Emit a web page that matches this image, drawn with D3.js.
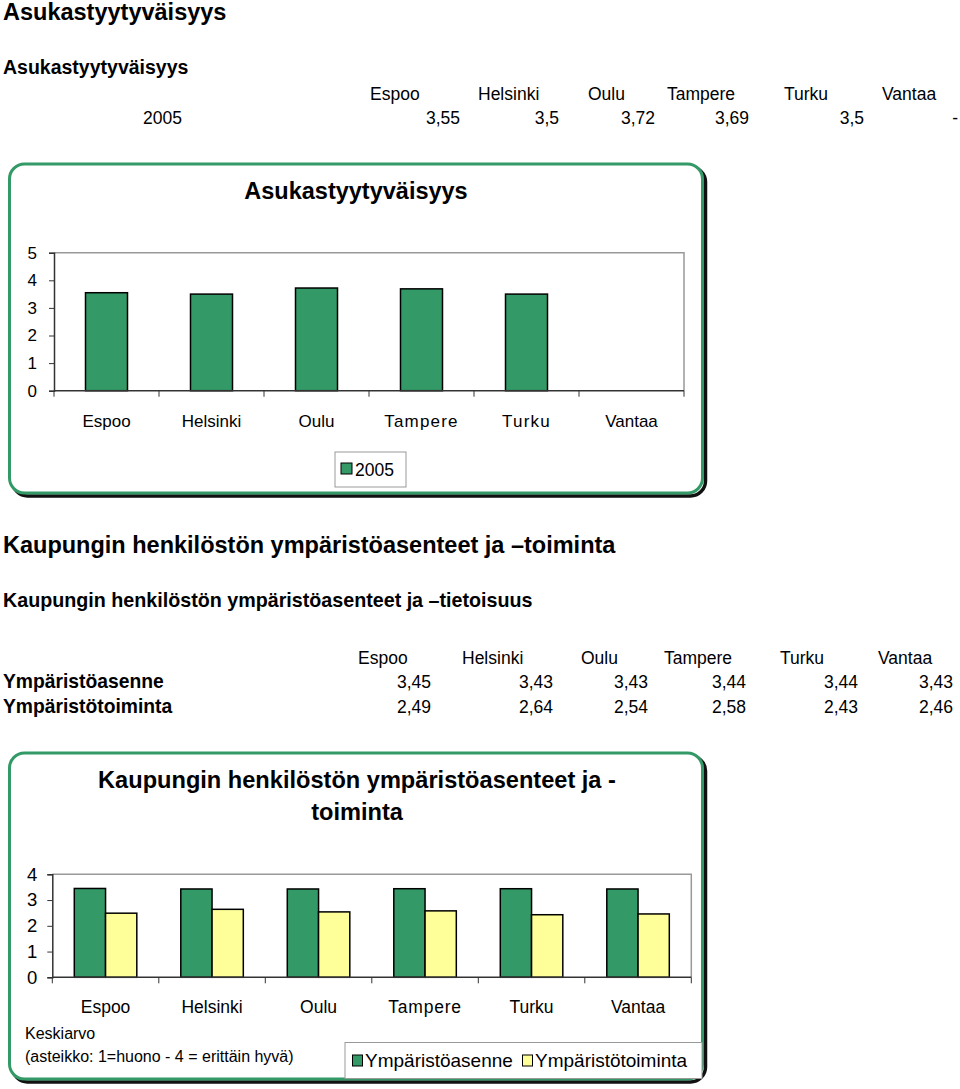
<!DOCTYPE html>
<html><head><meta charset="utf-8">
<script src="https://cdn.jsdelivr.net/npm/d3@7"></script>
<style>
body{margin:0;background:#fff;}
svg text{font-family:Arial,"Liberation Sans",sans-serif;fill:#000;}
</style></head>
<body><svg id="c" width="960" height="1089"></svg>
<script>
// ---- Data ----
const cities = ["Espoo","Helsinki","Oulu","Tampere","Turku","Vantaa"];
const satisfaction2005 = [3.55, 3.5, 3.72, 3.69, 3.5, null];
const satisfactionLabels = ["3,55","3,5","3,72","3,69","3,5","-"];
const attitude = [3.45, 3.43, 3.43, 3.44, 3.44, 3.43];
const action = [2.49, 2.64, 2.54, 2.58, 2.43, 2.46];
const seriesNames = ["Ympäristöasenne","Ympäristötoiminta"];
const yTicks1 = [0,1,2,3,4,5];
const yTicks2 = [0,1,2,3,4];

const GREEN = "#339966", YELLOW = "#ffff99";
const fmt = v => v.toFixed(2).replace(".", ",");

const svg = d3.select("#c");

// ---- Text blocks ----
svg.append("text").attr("x",3).attr("y",20).attr("font-size",23.5).attr("font-weight","bold").text("Asukastyytyväisyys");
svg.append("text").attr("x",3).attr("y",74).attr("font-size",19.5).attr("font-weight","bold").text("Asukastyytyväisyys");

const hdr1X = [370,478,588,667,784,882];
const val1X = [460,559,655,749,864,958];
cities.forEach((c,i)=>{
  svg.append("text").attr("x",hdr1X[i]).attr("y",100).attr("font-size",17.5).text(c);
  svg.append("text").attr("x",val1X[i]).attr("y",124).attr("font-size",17.5).attr("text-anchor","end").text(satisfactionLabels[i]);
});
svg.append("text").attr("x",143).attr("y",124).attr("font-size",17.5).text("2005");

svg.append("text").attr("x",3).attr("y",553).attr("font-size",23.5).attr("font-weight","bold").text("Kaupungin henkilöstön ympäristöasenteet ja –toiminta");
svg.append("text").attr("x",3).attr("y",607).attr("font-size",19.7).attr("font-weight","bold").text("Kaupungin henkilöstön ympäristöasenteet ja –tietoisuus");

const hdr2X = [358,462,581,664,780,878];
const val2X = [431,553,648,746,858,953];
cities.forEach((c,i)=>{
  svg.append("text").attr("x",hdr2X[i]).attr("y",664).attr("font-size",17.5).text(c);
  svg.append("text").attr("x",val2X[i]).attr("y",688).attr("font-size",17.5).attr("text-anchor","end").text(fmt(attitude[i]));
  svg.append("text").attr("x",val2X[i]).attr("y",713).attr("font-size",17.5).attr("text-anchor","end").text(fmt(action[i]));
});
svg.append("text").attr("x",3).attr("y",688).attr("font-size",19.3).attr("font-weight","bold").text("Ympäristöasenne");
svg.append("text").attr("x",3).attr("y",713).attr("font-size",19.3).attr("font-weight","bold").text("Ympäristötoiminta");

// ---- Frames ----
function frame(x,y,w,h){
  svg.append("rect").attr("x",x+3).attr("y",y+3).attr("width",w).attr("height",h).attr("rx",15)
    .attr("fill","none").attr("stroke","#111").attr("stroke-width",3.5);
  svg.append("rect").attr("x",x).attr("y",y).attr("width",w).attr("height",h).attr("rx",15)
    .attr("fill","#fff").attr("stroke",GREEN).attr("stroke-width",3);
}
frame(9.5,164,693,329);
frame(9.5,753,693,326);

// ---- Chart 1 ----
{
  const L=54,R=684,T=252.7,B=390.7;
  const x = d3.scaleBand().domain(cities).range([L,R]).paddingInner(0.6).paddingOuter(0.3);
  const y = d3.scaleLinear().domain([0,5]).range([B,T]);
  svg.append("path").attr("d",`M${L},${T}H${R}V${B}`).attr("fill","none").attr("stroke","#999").attr("stroke-width",1.5);
  cities.forEach((c,i)=>{
    if(satisfaction2005[i]==null) return;
    svg.append("rect").attr("x",x(c)).attr("y",y(satisfaction2005[i])).attr("width",x.bandwidth()).attr("height",B-y(satisfaction2005[i]))
      .attr("fill",GREEN).attr("stroke","#000").attr("stroke-width",1.5);
  });
  const ya = svg.append("g").attr("transform",`translate(${L},0)`).call(d3.axisLeft(y).tickValues(yTicks1).tickSize(5).tickPadding(12).tickFormat(d3.format("d")));
  ya.select(".domain").attr("stroke","#333").attr("stroke-width",1.5);
  ya.selectAll(".tick line").attr("stroke","#333");
  ya.selectAll("text").attr("font-size",17).attr("font-family","Arial,'Liberation Sans',sans-serif").attr("fill","#000");
  const step = x.step();
  const xa = svg.append("g").attr("transform",`translate(0,${B})`);
  xa.append("line").attr("x1",L).attr("x2",R).attr("stroke","#333").attr("stroke-width",1.5);
  d3.range(7).forEach(k=>xa.append("line").attr("x1",L+k*step).attr("x2",L+k*step).attr("y1",0).attr("y2",6).attr("stroke","#333"));
  cities.forEach(c=>xa.append("text").attr("x",x(c)+x.bandwidth()/2).attr("y",36).attr("text-anchor","middle").attr("font-size",17)
    .attr("letter-spacing", (c==="Tampere"||c==="Turku")?1.2:0).text(c));
  svg.append("text").attr("x",356).attr("y",199).attr("text-anchor","middle").attr("font-size",23.5).attr("font-weight","bold").text("Asukastyytyväisyys");
  // legend
  svg.append("rect").attr("x",335).attr("y",452).attr("width",71).attr("height",35).attr("fill","#fff").attr("stroke","#999");
  svg.append("rect").attr("x",341).attr("y",463).attr("width",11).attr("height",11).attr("fill",GREEN).attr("stroke","#000");
  svg.append("text").attr("x",355).attr("y",476).attr("font-size",17.5).text("2005");
}

// ---- Chart 2 ----
{
  const L=52.3,R=691.3,T=874.3,B=977.3;
  const x0 = d3.scaleBand().domain(cities).range([L,R]).paddingInner(0.413).paddingOuter(0.2065);
  const x1 = d3.scaleBand().domain(seriesNames).range([0,x0.bandwidth()]);
  const y = d3.scaleLinear().domain([0,4]).range([B,T]);
  const colors = {[seriesNames[0]]:GREEN,[seriesNames[1]]:YELLOW};
  svg.append("path").attr("d",`M${L},${T}H${R}V${B}`).attr("fill","none").attr("stroke","#999").attr("stroke-width",1.5);
  cities.forEach((c,i)=>{
    [[seriesNames[0],attitude[i]],[seriesNames[1],action[i]]].forEach(([s,v])=>{
      svg.append("rect").attr("x",x0(c)+x1(s)).attr("y",y(v)).attr("width",x1.bandwidth()).attr("height",B-y(v))
        .attr("fill",colors[s]).attr("stroke","#000").attr("stroke-width",1.5);
    });
  });
  const ya = svg.append("g").attr("transform",`translate(${L},0)`).call(d3.axisLeft(y).tickValues(yTicks2).tickSize(5).tickPadding(10).tickFormat(d3.format("d")));
  ya.select(".domain").attr("stroke","#333").attr("stroke-width",1.5);
  ya.selectAll(".tick line").attr("stroke","#333");
  ya.selectAll("text").attr("font-size",18.5).attr("font-family","Arial,'Liberation Sans',sans-serif").attr("fill","#000");
  const step = x0.step();
  const xa = svg.append("g").attr("transform",`translate(0,${B})`);
  xa.append("line").attr("x1",L).attr("x2",R).attr("stroke","#333").attr("stroke-width",1.5);
  d3.range(7).forEach(k=>xa.append("line").attr("x1",L+k*step).attr("x2",L+k*step).attr("y1",0).attr("y2",6).attr("stroke","#333"));
  cities.forEach(c=>xa.append("text").attr("x",x0(c)+x0.bandwidth()/2).attr("y",36).attr("text-anchor","middle").attr("font-size",17.5)
    .attr("letter-spacing", c==="Tampere"?0.8:0).text(c));
  svg.append("text").attr("x",357).attr("y",788).attr("text-anchor","middle").attr("font-size",23.6).attr("font-weight","bold").text("Kaupungin henkilöstön ympäristöasenteet ja -");
  svg.append("text").attr("x",357).attr("y",820).attr("text-anchor","middle").attr("font-size",23.6).attr("font-weight","bold").text("toiminta");
  svg.append("text").attr("x",25).attr("y",1039).attr("font-size",16).text("Keskiarvo");
  svg.append("text").attr("x",25).attr("y",1062).attr("font-size",16).text("(asteikko: 1=huono - 4 = erittäin hyvä)");
  // legend
  svg.append("rect").attr("x",345).attr("y",1042.5).attr("width",357).attr("height",36).attr("fill","#fff").attr("stroke","#999");
  svg.append("rect").attr("x",352.5).attr("y",1055).attr("width",10).attr("height",11).attr("fill",GREEN).attr("stroke","#000");
  svg.append("text").attr("x",365).attr("y",1067).attr("font-size",19).text(seriesNames[0]);
  svg.append("rect").attr("x",522.5).attr("y",1055).attr("width",10).attr("height",11).attr("fill",YELLOW).attr("stroke","#000");
  svg.append("text").attr("x",535).attr("y",1067).attr("font-size",19).text(seriesNames[1]);
}
</script></body></html>
